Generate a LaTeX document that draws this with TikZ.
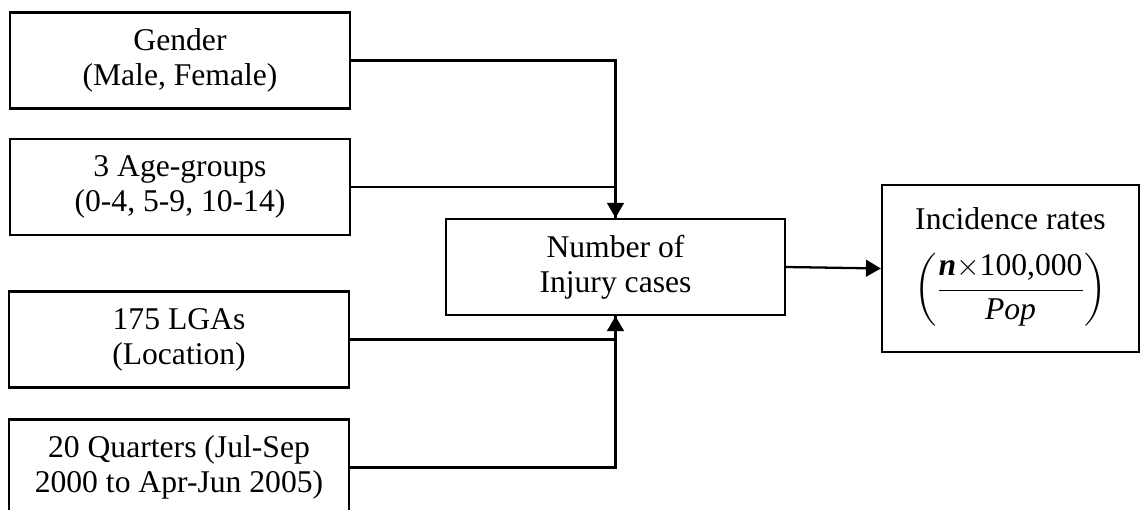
\documentclass[tikz,border=0pt]{standalone}
\usepackage{amsmath}
\usepackage{fontspec}
\setmainfont{Liberation Serif}
\usetikzlibrary{arrows.meta}
\tikzset{
	infobox/.style={draw, line width=1.3pt, minimum width=6.8cm, minimum height=1.92cm, align=center, inner sep=2pt, font=\fontsize{18}{20}\selectfont},
}
\newcommand{\fracstrut}{\rule[-6pt]{0pt}{20pt}}
\begin{document}
\begin{tikzpicture}[>={Triangle[length=8.5pt,width=9.5pt]}, line width=1.3pt]
		\clip (0,0) rectangle (22.8,-10.2);
		\node[infobox] (gender) at (3.6,-1.21) {Gender\\(Male, Female)};
		\node[infobox] (age) at (3.6,-3.74) {3 Age-groups\\(0-4, 5-9, 10-14)};
		\node[infobox] (lga) at (3.58,-6.79) {175 LGAs\\(Location)};
		\node[infobox] (quarters) at (3.58,-9.35) {20 Quarters (Jul-Sep\\2000 to Apr-Jun 2005)};
		\node[infobox, minimum width=6.78cm] (cases) at (12.31,-5.34) {Number of\\Injury cases};
		\node[infobox, minimum width=5.14cm, minimum height=3.34cm] (rates) at (20.21,-5.37) {Incidence rates\\[11pt]$\left(\dfrac{\fracstrut\text{\bfseries\itshape n}{\times}\text{100,000}}{\fracstrut\text{\itshape Pop}}\right)$};
		
		\draw[->] (gender.east) -| (cases.north);
		\draw (age.east) -| (cases.north);
		\draw[->] (quarters.east) -| (cases.south);
		\draw (lga.east) -| (cases.south);
		\draw[->] (cases.east) -- (rates.west);
	\end{tikzpicture}
\end{document}
